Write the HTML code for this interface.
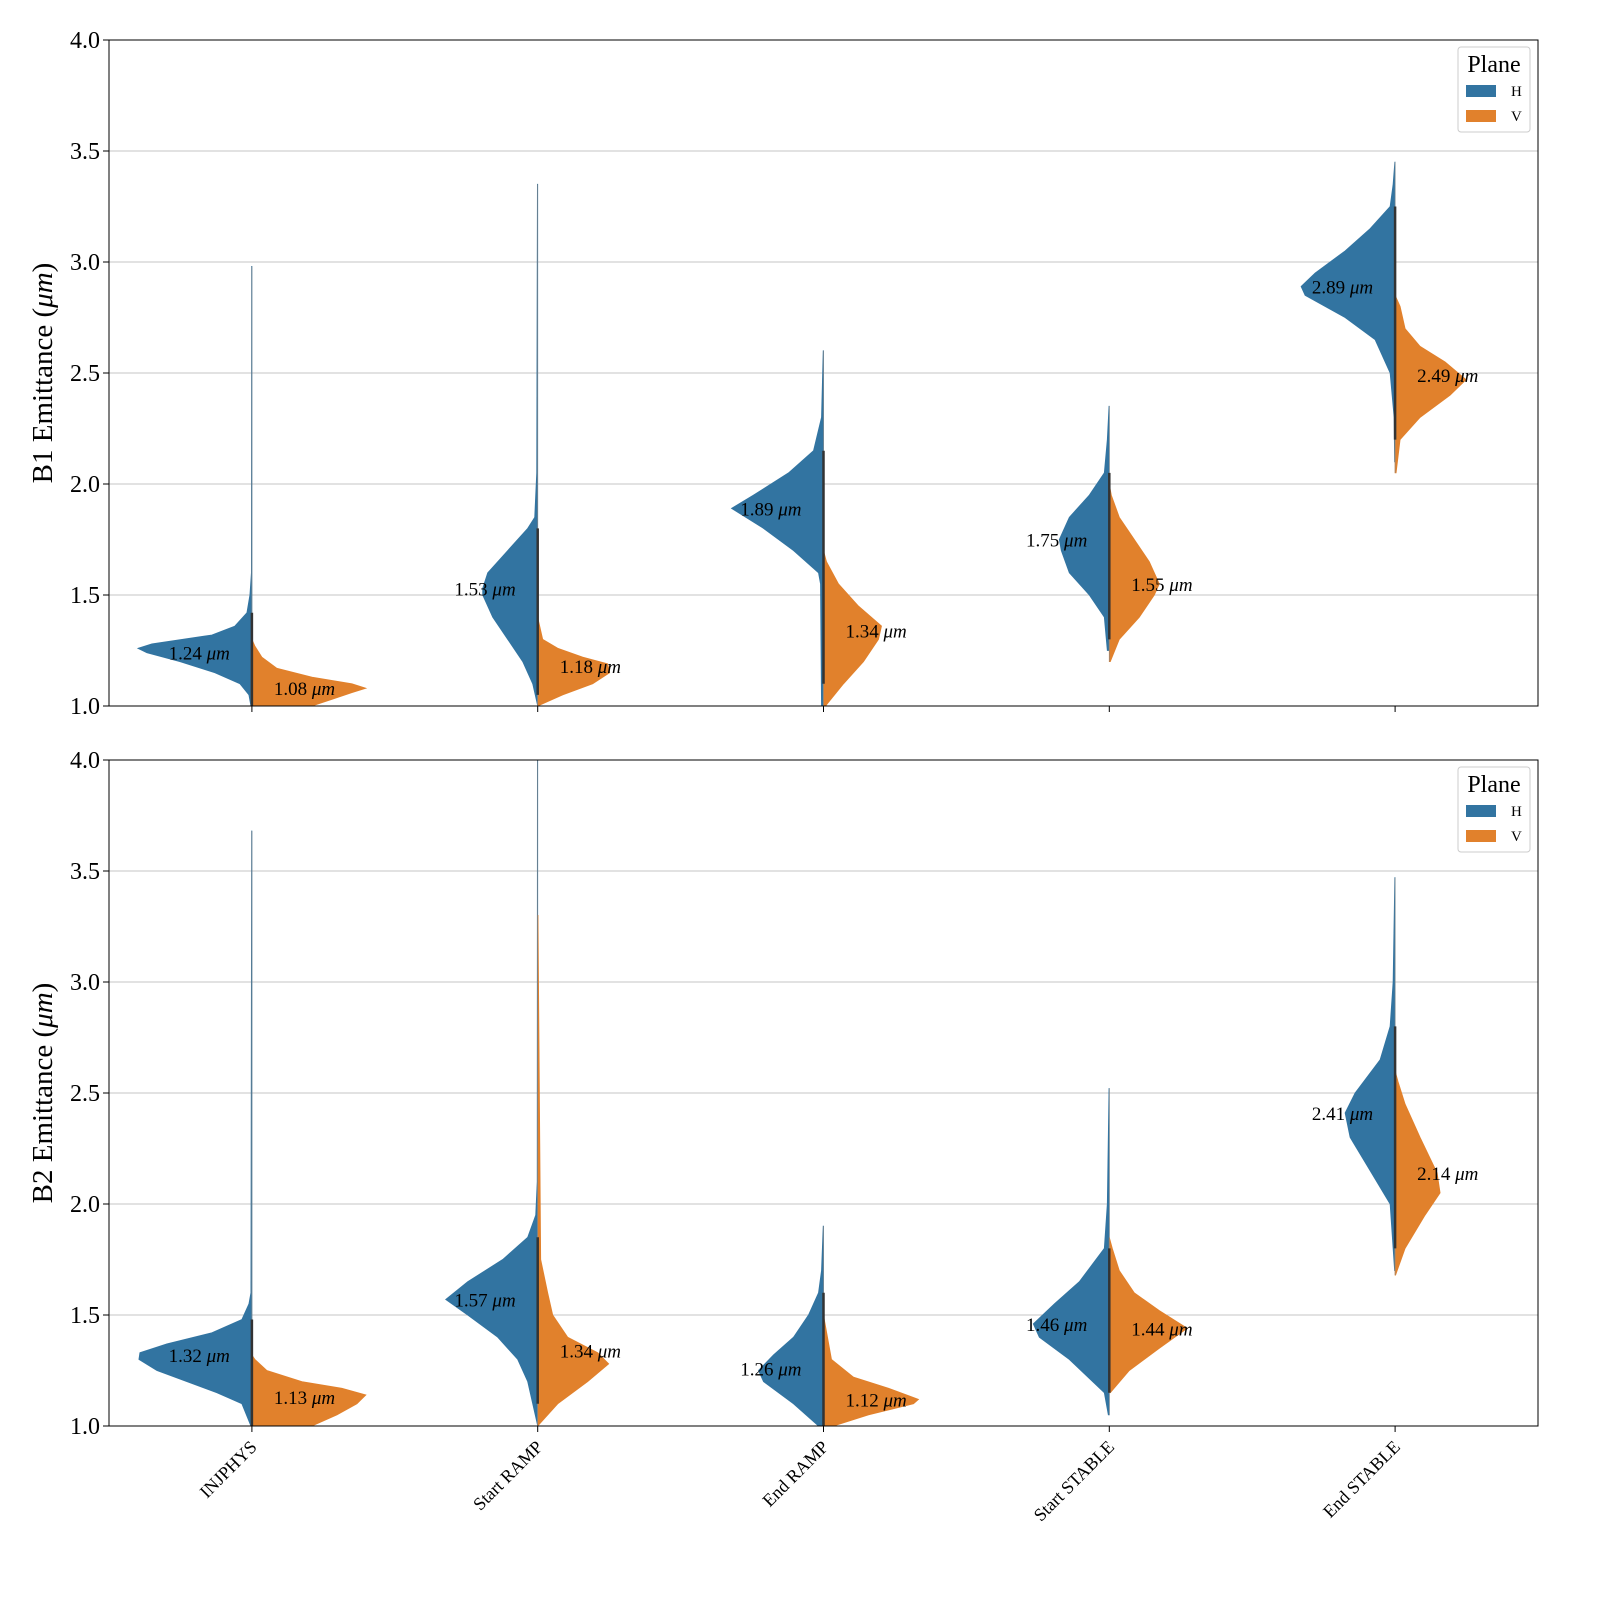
<!DOCTYPE html>
<html><head><meta charset="utf-8"><style>
html,body{margin:0;padding:0;background:#fff;overflow:hidden;width:1600px;height:1600px}
svg{display:block;font-family:"Liberation Serif",serif}
</style></head><body>
<svg id="chart" width="1600" height="1600" viewBox="0 0 1600 1600" xmlns="http://www.w3.org/2000/svg"></svg>
<script>
const categories = ["INJPHYS","Start RAMP","End RAMP","Start STABLE","End STABLE"];
const panelNames = ["B1","B2"];
const b1Medians = [[1.24,1.08],[1.53,1.18],[1.89,1.34],[1.75,1.55],[2.89,2.49]];
const b2Medians = [[1.32,1.13],[1.57,1.34],[1.26,1.12],[1.46,1.44],[2.41,2.14]];
const yTicks = [1.0,1.5,2.0,2.5,3.0,3.5,4.0];
const b1H = [
 [[1.0,0.01],[1.05,0.03],[1.1,0.12],[1.15,0.37],[1.2,0.72],[1.24,1.05],[1.26,1.14],[1.28,1.0],[1.32,0.4],[1.36,0.17],[1.42,0.05],[1.5,0.02],[1.6,0.005],[2.98,0.003]],
 [[1.0,0],[1.1,0.05],[1.2,0.15],[1.3,0.3],[1.4,0.45],[1.5,0.55],[1.53,0.55],[1.6,0.5],[1.7,0.3],[1.8,0.1],[1.85,0.03],[2.05,0.01],[3.35,0.003]],
 [[1.0,0.02],[1.55,0.03],[1.6,0.05],[1.7,0.3],[1.8,0.6],[1.89,0.92],[1.95,0.7],[2.05,0.35],[2.15,0.1],[2.3,0.02],[2.6,0.003]],
 [[1.25,0.02],[1.4,0.05],[1.5,0.2],[1.6,0.4],[1.7,0.48],[1.75,0.5],[1.85,0.4],[1.95,0.2],[2.05,0.05],[2.2,0.02],[2.35,0.003]],
 [[2.1,0.005],[2.3,0.01],[2.5,0.05],[2.65,0.2],[2.75,0.5],[2.85,0.9],[2.89,0.94],[2.95,0.8],[3.05,0.5],[3.15,0.25],[3.25,0.05],[3.35,0.02],[3.45,0.003]]
];
const b1V = [
 [[0.98,0.5],[1.0,0.6],[1.03,0.8],[1.06,1.0],[1.08,1.14],[1.1,1.0],[1.13,0.6],[1.17,0.25],[1.22,0.1],[1.27,0.03],[1.3,0]],
 [[1.0,0],[1.05,0.25],[1.1,0.55],[1.15,0.72],[1.19,0.7],[1.22,0.45],[1.26,0.2],[1.3,0.05],[1.36,0.02],[1.4,0]],
 [[1.0,0.02],[1.1,0.2],[1.2,0.4],[1.3,0.55],[1.36,0.58],[1.45,0.35],[1.55,0.15],[1.65,0.03],[1.7,0]],
 [[1.2,0.01],[1.3,0.1],[1.4,0.3],[1.5,0.45],[1.55,0.5],[1.65,0.4],[1.75,0.25],[1.85,0.1],[1.95,0.02],[2.0,0]],
 [[2.05,0.01],[2.2,0.05],[2.3,0.25],[2.4,0.55],[2.47,0.71],[2.55,0.5],[2.62,0.25],[2.7,0.1],[2.8,0.05],[2.85,0]]
];
const b2H = [
 [[1.0,0.01],[1.1,0.1],[1.15,0.35],[1.2,0.65],[1.25,0.95],[1.3,1.13],[1.33,1.12],[1.37,0.85],[1.42,0.4],[1.48,0.1],[1.55,0.03],[1.6,0.01],[3.68,0.003]],
 [[1.0,0],[1.1,0.05],[1.2,0.1],[1.3,0.2],[1.4,0.4],[1.5,0.7],[1.57,0.92],[1.65,0.7],[1.75,0.35],[1.85,0.1],[1.95,0.02],[2.1,0.005],[4.0,0.003]],
 [[1.0,0.05],[1.1,0.3],[1.2,0.6],[1.25,0.65],[1.32,0.5],[1.4,0.3],[1.5,0.15],[1.6,0.05],[1.7,0.02],[1.9,0.003]],
 [[1.05,0.01],[1.15,0.05],[1.3,0.4],[1.4,0.7],[1.46,0.76],[1.55,0.55],[1.65,0.3],[1.8,0.05],[2.0,0.02],[2.52,0.003]],
 [[1.7,0.005],[2.0,0.05],[2.15,0.25],[2.3,0.45],[2.41,0.5],[2.5,0.4],[2.65,0.15],[2.8,0.05],[3.0,0.02],[3.47,0.003]]
];
const b2V = [
 [[1.0,0.6],[1.05,0.85],[1.1,1.05],[1.14,1.14],[1.17,0.9],[1.2,0.5],[1.25,0.15],[1.3,0.03],[1.32,0]],
 [[1.0,0],[1.1,0.2],[1.2,0.5],[1.28,0.71],[1.33,0.6],[1.4,0.3],[1.5,0.15],[1.6,0.1],[1.75,0.03],[3.3,0.003]],
 [[1.0,0.1],[1.05,0.45],[1.1,0.9],[1.12,0.95],[1.17,0.65],[1.22,0.3],[1.3,0.08],[1.45,0.02],[1.5,0]],
 [[1.15,0.01],[1.25,0.2],[1.35,0.5],[1.44,0.78],[1.52,0.5],[1.6,0.25],[1.7,0.1],[1.8,0.03],[1.85,0]],
 [[1.68,0.005],[1.8,0.1],[1.95,0.3],[2.05,0.45],[2.14,0.42],[2.3,0.25],[2.45,0.1],[2.55,0.03],[2.6,0]]
];

const NS="http://www.w3.org/2000/svg";
const svg=document.getElementById('chart');
const X0=109,X1=1538,DPX=100;
const panelTops=[40,760],PH=666;
const COLH="#3274a1",COLV="#e1812c";
function xScale(i){return X0+(i+0.5)*(X1-X0)/categories.length;}
function yScaleFor(top){return v=>top+PH-(v-1.0)/3.0*PH;}
function mk(tag,attrs,parent){const e=document.createElementNS(NS,tag);for(const k in attrs)e.setAttribute(k,attrs[k]);(parent||svg).appendChild(e);return e;}

const allH=[b1H,b2H],allV=[b1V,b2V],allM=[b1Medians,b2Medians];
panelNames.forEach((pn,p)=>{
  const top=panelTops[p],y=yScaleFor(top);
  const g=mk('g',{});
  
  
  const cp=mk('clipPath',{id:'clip'+p},g);
  mk('rect',{x:X0,y:top,width:X1-X0,height:PH},cp);
  yTicks.forEach(t=>{
    const gl=mk('line',{x1:X0,x2:X1,y1:y(t),y2:y(t),stroke:'#b0b0b0','stroke-width':0.8},g);
    
    
    mk('line',{x1:X0-6,x2:X0,y1:y(t),y2:y(t),stroke:'#000','stroke-width':1},g);
    const tl=mk('text',{x:X0-9,y:y(t)+8,'text-anchor':'end','font-size':24},g);
    tl.textContent=t.toFixed(1);
    
    
  });
  const vg=mk('g',{'clip-path':'url(#clip'+p+')'},g);
  categories.forEach((c,i)=>{
    const cx=xScale(i);
    mk('line',{x1:cx,x2:cx,y1:top+PH,y2:top+PH+6,stroke:'#000'},g);
    [[allH[p][i],-1,COLH,'h'],[allV[p][i],1,COLV,'v']].forEach(([prof,s,col,nm])=>{
      let d='M'+cx+','+y(prof[0][0]);
      prof.forEach(pt=>{d+=' L'+(cx+s*pt[1]*DPX)+','+y(pt[0]);});
      d+=' L'+cx+','+y(prof[prof.length-1][0])+' Z';
      const path=mk('path',{d:d,fill:col,stroke:col,'stroke-width':0.8},vg);
      
      
    });
    const h=allH[p][i],v=allV[p][i];
    const lo=Math.min(h[0][0],v[0][0]),hi=Math.max(h[h.length-1][0],v[v.length-1][0]);
    mk('line',{x1:cx,x2:cx,y1:y(lo),y2:y(hi),stroke:'#888','stroke-width':0.6},vg);
    const core=(prof)=>prof.filter(pt=>pt[1]>=0.04).map(pt=>pt[0]);
    const cv=core(h).concat(core(v));
    const st=mk('line',{x1:cx,x2:cx,y1:y(Math.min(...cv)),y2:y(Math.max(...cv)),stroke:'#333','stroke-width':2.5},vg);
    
    
    const m=allM[p][i];
    const lh=mk('text',{x:cx-22,y:y(m[0])+7,'text-anchor':'end','font-size':19},g);
    lh.innerHTML=m[0].toFixed(2)+' <tspan font-style="italic">μm</tspan>';
    
    
    const lv=mk('text',{x:cx+22,y:y(m[1])+7,'text-anchor':'start','font-size':19},g);
    lv.innerHTML=m[1].toFixed(2)+' <tspan font-style="italic">μm</tspan>';
    
    
    if(p===1){
      const xl=mk('text',{x:cx+6,y:top+PH+22,'text-anchor':'end','font-size':18,transform:'rotate(-45 '+(cx+6)+' '+(top+PH+22)+')'},g);
      xl.textContent=c;
      
      
    }
  });
  mk('rect',{x:X0,y:top,width:X1-X0,height:PH,fill:'none',stroke:'#000','stroke-width':1},g);
  const yl=mk('text',{x:52,y:top+PH/2,'text-anchor':'middle','font-size':29,transform:'rotate(-90 52 '+(top+PH/2)+')'},g);
  yl.innerHTML=pn+' Emittance (<tspan font-style="italic">μm</tspan>)';
  
  
  const lg=mk('g',{},g);
  
  
  mk('rect',{x:1458,y:top+7,width:72,height:85,fill:'#fff','fill-opacity':0.85,stroke:'#ccc',rx:3},lg);
  const lt=mk('text',{x:1494,y:top+32,'text-anchor':'middle','font-size':24},lg);
  lt.textContent='Plane';
  [['H',COLH],['V',COLV]].forEach(([n,col],k)=>{
    const ey=top+45+k*25;
    const pr=mk('rect',{x:1466,y:ey,width:30,height:12,fill:col},lg);
    
    
    const et=mk('text',{x:1511,y:ey+11,'font-size':15},lg);
    et.textContent=n;
  });
});
</script>
</body></html>
